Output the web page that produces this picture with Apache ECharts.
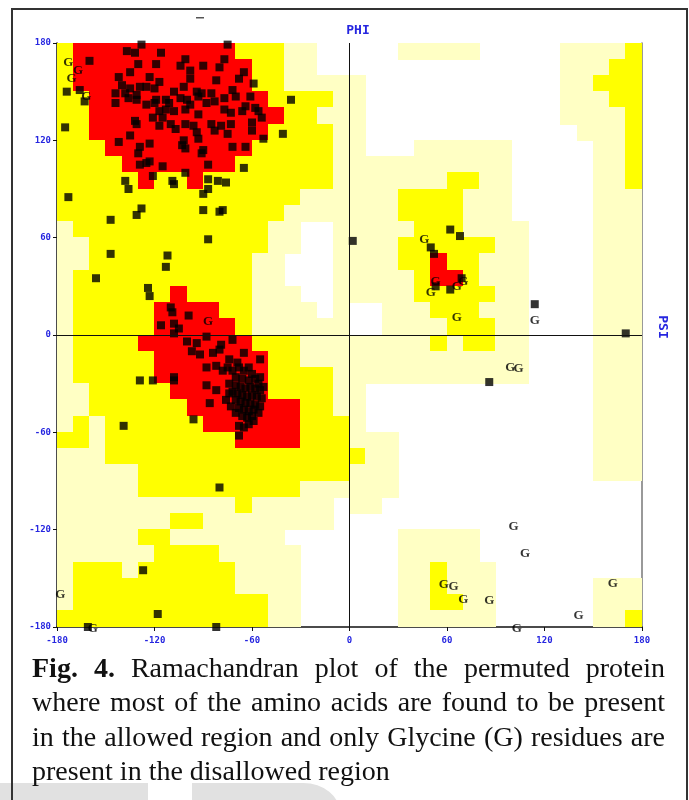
<!DOCTYPE html>
<html>
<head>
<meta charset="utf-8">
<title>Ramachandran plot</title>
<script src="https://cdn.jsdelivr.net/npm/echarts@6/dist/echarts.min.js"></script>
<style>
  body { margin:0; background:#fff; width:689px; height:800px; position:relative; overflow:hidden; }
  #main { position:absolute; left:0; top:0; width:689px; height:660px; }
  .wm { position:absolute; background:#e1e1e1; }
  #frame { position:absolute; left:11px; top:8px; width:673px; height:820px; border:2px solid #333; border-bottom:none; pointer-events:none; }
  #caption { position:absolute; left:32px; top:651px; width:633px; font-family:"Liberation Serif", serif; font-size:28px; line-height:34.4px; color:#111; }
  #caption div { text-align:justify; text-align-last:justify; }
  #caption div.last { text-align-last:left; }
</style>
</head>
<body>
<div class="wm" style="left:0;top:783px;width:148px;height:30px"></div>
<div class="wm" style="left:192px;top:783px;width:148px;height:30px;border-top-right-radius:55px 45px"></div>
<div id="main"></div>
<div id="frame"></div>
<div id="caption">
  <div><b>Fig. 4.</b> Ramachandran plot of the permuted protein</div>
  <div>where most of the amino acids are found to be present</div>
  <div>in the allowed region and only Glycine (G) residues are</div>
  <div class="last">present in the disallowed region</div>
</div>
<script type="text/javascript">
// region map, 10 degree cells: rows psi 180 -> -180, columns phi -180 -> 180
// R core, Y allowed, L generous, . disallowed
var regionRows = [
  "YRRRRRRRRRRYYYLL.." + "...LLLLL.....LLLLY",
  "YRRRRRRRRRRRYYLL.." + ".............LLLYY",
  "YRRRRRRRRRRRYYLLLL" + "L............LLYYY",
  "YYRRRRRRRRRRRYYYYL" + "L............LLLYY",
  "YYRRRRRRRRRRRRYYLL" + "L............LLLLY",
  "YYRRRRRRRRRRRYYYYL" + "L.............LLLY",
  "YYYRRRRRRRRRYYYYYL" + "L...LLLLLL.....LLY",
  "YYYYRRRRRRRYYYYYYL" + "LLLLLLLLLL.....LLY",
  "YYYYYRYYRYYYYYYYYL" + "LLLLLLYYLL.....LLY",
  "YYYYYYYYYYYYYYYLLL" + "LLLYYYYLLL.....LLL",
  "YYYYYYYYYYYYYYLLLL" + "LLLYYYYLLL.....LLL",
  "LYYYYYYYYYYYYLL..L" + "LLLLYYYLLLL....LLL",
  "LLYYYYYYYYYYYLL..L" + "LLLYYYYYYLL....LLL",
  "LLYYYYYYYYYYLL...L" + "LLLYYRYYLLL....LLL",
  "LYYYYYYYYYYYLL...L" + "LLLLYRRYLLL....LLL",
  "LYYYYYYRYYYYLLL..L" + "LLLLYYYYYLL....LLL",
  "LYYYYYRRRRYYLLLL.L" + "..LLLYYYLLL....LLL",
  "LYYYYYRRRRRYLLLLLL" + "..LLLLYYYLL....LLL",
  "LYYYYRRRRRRRYYYLLL" + "LLLLLYLYYLL....LLL",
  "LYYYYYRRRRRRRYYLLL" + "LLLLLLLLLLL....LLL",
  "LYYYYYRRRRRRRYYYYL" + "LLLLLLLLLLL....LLL",
  "LLYYYYYRRRRRRYYYYL" + "L..............LLL",
  "LLYYYYYYRRRRRRRYYL" + "L..............LLL",
  "LYLYYYYYYRRRRRRYYY" + "L..............LLL",
  "YYLYYYYYYYYRRRRYYY" + "LLL............LLL",
  "LLLYYYYYYYYYYYYYYY" + "YLL............LLL",
  "LLLLLYYYYYYYYYYYYY" + "LLL............LLL",
  "LLLLLYYYYYYYYYYLLL" + "LLL...............",
  "LLLLLLLLLLLYLLLLL." + "LL................",
  "LLLLLLLYYLLLLLLLL." + "..................",
  "LLLLLYYLLLLLLL...." + "...LLLLL..........",
  "LLLLLLYYYYLLLLL..." + "...LLLLL..........",
  "LYYYLYYYYYYLLLL..." + "...LLYLLL.........",
  "LYYYYYYYYYYLLLL..." + "...LLYLLL......LLL",
  "LYYYYYYYYYYYYLL..." + "...LLYYLL......LLL",
  "YYYYYYYYYYYYYLL..." + "...LLLLLL......LLY"
];

// non-glycine residues [phi, psi]
var residues = [
  [-128,179],[-75,179],[-137,175],[-132,174],[-116,174],[-160,169],[-130,167],[-119,167],[-101,170],[-104,166],
  [-90,166],[-77,170],[-80,165],[-98,163],[-65,162],[-135,162],[-123,159],[-142,159],[-98,158],[-117,156],
  [-82,157],[-68,158],[-59,155],[-140,154],[-135,152],[-129,153],[-125,153],[-120,152],[-102,153],[-94,150],
  [-91,149],[-85,149],[-108,150],[-72,151],[-144,149],[-138,149],[-136,146],[-131,148],[-131,145],[-119,145],
  [-113,145],[-104,146],[-100,145],[-93,147],[-77,146],[-70,147],[-61,147],[-144,143],[-125,142],[-120,143],
  [-111,143],[-98,142],[-88,143],[-83,144],[-64,141],[-58,140],[-56,138],[-36,145],[-117,138],[-113,139],
  [-108,138],[-101,139],[-93,136],[-77,139],[-73,137],[-66,138],[-54,134],[-121,134],[-115,134],[-132,132],
  [-131,130],[-110,130],[-117,129],[-107,127],[-101,130],[-96,129],[-85,130],[-83,126],[-79,129],[-73,130],
  [-60,131],[-60,126],[-94,125],[-75,124],[-41,124],[-175,128],[-135,123],[-142,119],[-53,121],[-102,120],
  [-93,121],[-103,117],[-123,118],[-129,116],[-72,116],[-64,116],[-90,114],[-91,112],[-130,112],[-101,115],
  [-129,105],[-125,106],[-123,107],[-115,104],[-87,105],[-65,103],[-121,98],[-101,100],[-138,95],[-136,90],
  [-109,95],[-108,93],[-87,96],[-81,95],[-76,94],[-90,87],[-87,90],[-128,78],[-131,74],[-147,71],
  [-90,77],[-80,76],[-78,77],[-173,85],[-174,150],[-166,151],[-163,144],
  [-87,59],[2,58],[-147,50],[-112,49],[-113,42],[-156,35],[-124,29],[-123,24],[-110,17],[-109,14],
  [-99,12],[-116,6],[-108,7],[-105,4],[-108,1],[-88,-1],[-100,-4],[-94,-5],[-72,-3],[-79,-6],
  [-97,-10],[-92,-12],[-84,-11],[-80,-9],[-65,-11],[-55,-15],[-88,-20],[-82,-19],[-78,-22],[-74,-15],
  [-69,-17],[-129,-28],[-121,-28],[-108,-26],[-108,-28],[-88,-31],[-82,-34],[-86,-42],[-96,-52],[-139,-56],
  [-68,-56],[-68,-62],[-59,-53],[-56,-30],
  [-75,-20],[-72,-22],[-68,-20],[-65,-22],[-62,-20],[-60,-24],[-70,-26],[-66,-27],[-62,-28],[-58,-27],
  [-55,-26],[-74,-30],[-70,-31],[-67,-32],[-64,-33],[-61,-32],[-58,-33],[-55,-34],[-53,-32],[-72,-35],
  [-69,-36],[-66,-37],[-63,-38],[-60,-37],[-57,-38],[-54,-39],[-70,-40],[-67,-41],[-64,-42],[-61,-42],
  [-58,-43],[-55,-44],[-68,-45],[-65,-46],[-62,-47],[-59,-46],[-56,-48],[-66,-50],[-63,-51],[-60,-50],
  [-70,-48],[-73,-44],[-76,-40],[-74,-36],[-62,-55],[-65,-57],
  [-80,-94],[-127,-145],[-118,-172],[-161,-180],[-82,-180],
  [62,65],[68,61],[50,54],[52,50],[53,30],[62,28],[69,35],[114,19],[170,1],[86,-29]
];

// glycine residues [phi, psi]
var glycines = [
  [-173,168],[-167,163],[-171,158],[-162,147],[-87,8],[46,59],[53,33],[50,26],[66,30],[70,33],
  [66,11],[114,9],[99,-20],[104,-21],[101,-118],[108,-135],[58,-154],[64,-155],[70,-163],[86,-164],
  [162,-153],[141,-173],[103,-181],[-178,-160],[-158,-181]
];

var regionLevel = { R: 3, Y: 2, L: 1 };
var regionColors = ['#ffffff', '#ffffc4', '#ffff00', '#ff0000'];
var blueText = '#2626e0';

var cells = [];
regionRows.forEach(function (row, j) {
  for (var i = 0; i < row.length; i++) {
    var c = row.charAt(i);
    if (c !== '.') cells.push([-180 + 10 * i, 170 - 10 * j, regionLevel[c]]);
  }
});

var myChart = echarts.init(document.getElementById('main'));

var axisLabelStyle = {
  color: blueText,
  fontFamily: 'DejaVu Sans Mono',
  fontWeight: 'bold',
  fontSize: 9
};

var option = {
  animation: false,
  grid: { left: 57, top: 43, width: 585, height: 584 },
  graphic: [
    { type: 'text', x: 358, y: 31,
      style: { text: 'PHI', fill: blueText, font: 'bold 13px "DejaVu Sans Mono"',
               align: 'center', verticalAlign: 'middle', textAlign: 'center', textVerticalAlign: 'middle' } },
    { type: 'text', x: 662, y: 327, rotation: -Math.PI / 2,
      style: { text: 'PSI', fill: blueText, font: 'bold 13px "DejaVu Sans Mono"',
               align: 'center', verticalAlign: 'middle', textAlign: 'center', textVerticalAlign: 'middle' } },
    { type: 'rect', shape: { x: 196, y: 17, width: 8, height: 1.5 }, style: { fill: '#555' } }
  ],
  xAxis: {
    type: 'value', min: -180, max: 180, interval: 60, position: 'bottom',
    axisLine: { onZero: false, lineStyle: { color: '#111', width: 1.5 } },
    axisTick: { show: true, length: 4, lineStyle: { color: '#111' } },
    splitLine: { show: false },
    axisLabel: Object.assign({ margin: 9 }, axisLabelStyle)
  },
  yAxis: [
    {
      type: 'value', min: -180, max: 180, interval: 60, position: 'left',
      axisLine: { onZero: false, lineStyle: { color: '#111', width: 1.5 } },
      axisTick: { show: true, length: 4, lineStyle: { color: '#111' } },
      splitLine: { show: false },
      axisLabel: Object.assign({ margin: 6 }, axisLabelStyle)
    },
    {
      type: 'value', min: -180, max: 180, position: 'right',
      axisLine: { show: true, onZero: false, lineStyle: { color: '#777', width: 1.5 } },
      axisTick: { show: false }, axisLabel: { show: false }, splitLine: { show: false }
    }
  ],
  series: [
    {
      type: 'custom',
      silent: true,
      z: 1,
      data: cells,
      encode: { x: 0, y: 1 },
      renderItem: function (params, api) {
        var phi = api.value(0), psi = api.value(1);
        var p1 = api.coord([phi, psi + 10]);
        var p2 = api.coord([phi + 10, psi]);
        var x0 = Math.floor(p1[0]), y0 = Math.floor(p1[1]);
        return {
          type: 'rect',
          shape: { x: x0, y: y0, width: Math.ceil(p2[0]) - x0, height: Math.ceil(p2[1]) - y0 },
          style: { fill: regionColors[api.value(2)] }
        };
      }
    },
    {
      name: 'Glycine',
      type: 'scatter',
      z: 3,
      clip: false,
      silent: true,
      symbolSize: 1,
      itemStyle: { color: 'rgba(0,0,0,0)' },
      label: {
        show: true, position: 'inside', formatter: 'G',
        fontFamily: 'Liberation Serif', fontWeight: 'bold', fontSize: 13, color: '#000'
      },
      data: glycines,
      markLine: {
        silent: true, symbol: 'none', animation: false,
        label: { show: false },
        lineStyle: { color: '#111', width: 1, type: 'solid' },
        data: [{ xAxis: 0 }, { yAxis: 0 }]
      }
    },
    {
      name: 'Residues',
      type: 'scatter',
      z: 4,
      clip: false,
      silent: true,
      symbol: 'rect',
      symbolSize: 8,
      itemStyle: { color: '#000' },
      data: residues
    }
  ]
};
myChart.setOption(option);
</script>
</body>
</html>
